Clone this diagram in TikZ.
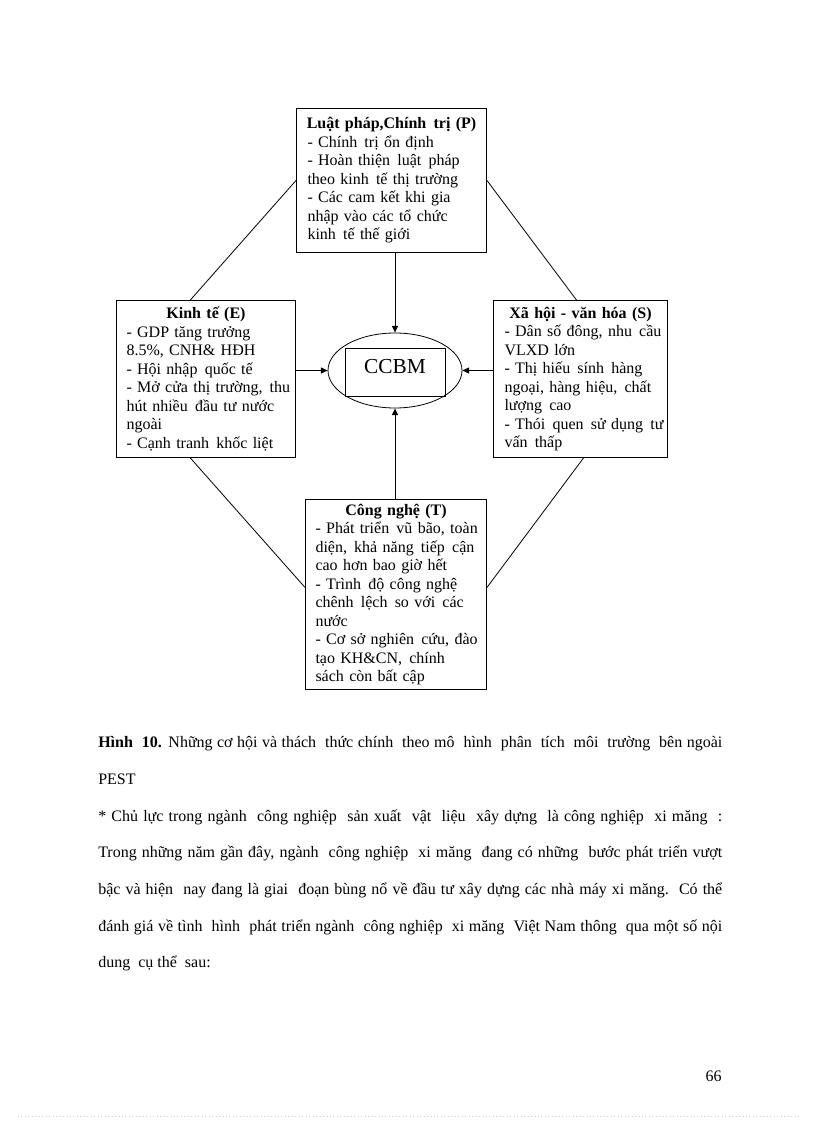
\documentclass[tikz,border=0pt]{standalone}
\usepackage{fontspec}
\setmainfont{Liberation Serif}
\usetikzlibrary{shapes.geometric,arrows.meta,calc}
\setlength\parindent{0pt}
\definecolor{dotline}{RGB}{190,215,190}
\newcommand\bline[1]{\mbox{#1}\\}
\newcommand\btitle[1]{\makebox[\hsize][c]{\textbf{#1}}\\}
\newcommand\dsp{\hspace{0.45em}}
\begin{document}
\begin{tikzpicture}[x=0.75pt,y=-0.75pt,
  boxtext/.style={draw, line width=0.75pt, rectangle, anchor=north west, inner ysep=0pt,
    align=left, font=\fontsize{12pt}{13.875pt}\selectfont},
  conn/.style={line width=0.6pt},
  arr/.style={line width=0.75pt, -{Triangle[length=5pt,width=4.5pt]}},
  bodyline/.style={anchor=base west, inner sep=0pt, font=\fontsize{12pt}{14pt}\selectfont}
]
\useasboundingbox (0,0) rectangle (816,1123);

% ---- boxes ----
\node[boxtext, inner xsep=8.25pt, text width=126pt, minimum height=108pt] (P) at (296,108)
 {\btitle{Luật pháp,Chính\dsp trị (P)}\bline{- Chính\dsp trị ổn định}\bline{- Hoàn thiện\dsp luật\dsp pháp}\bline{theo kinh\dsp tế thị trường}\bline{- Các cam kết khi gia}\bline{nhập vào các tổ chức}\mbox{kinh\dsp tế thế giới}};

\node[boxtext, inner xsep=7.5pt, text width=119.25pt, minimum height=117.75pt] (E) at (116,300)
 {\btitle{Kinh tế (E)}\bline{- GDP tăng trưởng}\bline{8.5\%, CNH\& HĐH}\bline{- Hội nhập\dsp quốc tế}\bline{- Mở cửa thị trường,\dsp thu}\bline{hút nhiều\dsp đầu tư nước}\bline{ngoài}\mbox{- Cạnh tranh\dsp khốc liệt}};

\node[boxtext, inner xsep=8.25pt, text width=114pt, minimum height=117.75pt] (S) at (493,300)
 {\btitle{Xã hội - văn hóa (S)}\bline{- Dân số đông, nhu\dsp cầu}\bline{VLXD lớn}\bline{- Thị hiếu\dsp sính\dsp hàng}\bline{ngoại, hàng hiệu,\dsp chất}\bline{lượng\dsp cao}\bline{- Thói\dsp quen\dsp sử dụng\dsp tư}\mbox{vấn\dsp thấp}};

\node[boxtext, inner xsep=7.5pt, text width=120.75pt, minimum height=142.5pt] (T) at (305,499)
 {\btitle{Công nghệ (T)}\bline{- Phát triển\dsp vũ bão, toàn}\bline{diện,\dsp khả năng\dsp tiếp\dsp cận}\bline{cao hơn bao giờ hết}\bline{- Trình\dsp độ công nghệ}\bline{chênh\dsp lệch\dsp so với\dsp các}\bline{nước}\bline{- Cơ sở nghiên\dsp cứu, đào}\bline{tạo KH\&CN,\dsp chính}\mbox{sách còn bất cập}};

% ---- centre ----
\node[draw, ellipse, line width=0.6pt, inner sep=0pt, minimum width=100.5pt, minimum height=56.25pt] (ell) at (395,370.5) {};
\node[draw, rectangle, line width=0.6pt, inner sep=0pt, minimum width=75pt, minimum height=36pt,
  font=\fontsize{16pt}{19pt}\selectfont, text height=10.6pt, text depth=9pt] (ccbm) at (395,372) {CCBM};

% ---- arrows into the centre ----
\draw[arr] (ell.north |- P.south) -- (ell.north);
\draw[arr] (ell.south |- T.north) -- (ell.south);
\draw[arr] (E.east |- ell.west) -- (ell.west);
\draw[arr] (S.west |- ell.east) -- (ell.east);

% ---- diamond of connectors ----
\draw[conn] ($(E.north west)!0.413!(E.north east)$) -- (P.west);
\draw[conn] (P.east) -- ($(S.north west)!0.477!(S.north east)$);
\draw[conn] ($(E.south west)!0.413!(E.south east)$) -- ($(T.north west)!0.463!(T.south west)$);
\draw[conn] ($(S.south west)!0.517!(S.south east)$) -- ($(T.north east)!0.463!(T.south east)$);

% ---- body text ----
\node[bodyline] (l1) at (98,747) {\makebox[468pt][s]{\textbf{Hình\ \ 10.} Những cơ hội và thách\ \ thức chính\ \ theo mô\ \ hình\ \ phân\ \ tích\ \ môi\ \ trường\ \ bên ngoài}};
\node[bodyline] (l2) at (98,784) {PEST};
\node[bodyline] (l3) at (98,821) {\makebox[468pt][s]{* Chủ lực trong ngành\ \ công nghiệp\ \ sản xuất\ \ vật\ \ liệu\ \ xây dựng\ \ là công nghiệp\ \ xi măng\ \ :}};
\node[bodyline] (l4) at (98,857) {\makebox[468pt][s]{Trong những năm gần đây, ngành\ \ công nghiệp\ \ xi măng\ \ đang có những\ \ bước phát triển vượt}};
\node[bodyline] (l5) at (98,894) {\makebox[468pt][s]{bậc và hiện\ \ nay đang là giai\ \ đoạn bùng nổ về đầu tư xây dựng các nhà máy xi măng.\ \ Có thể}};
\node[bodyline] (l6) at (98,931) {\makebox[468pt][s]{đánh giá về tình\ \ hình\ \ phát triển ngành\ \ công nghiệp\ \ xi măng\ \ Việt Nam thông\ \ qua một số nội}};
\node[bodyline] (l7) at (98,967) {dung\ \ cụ thể\ \ sau:};

% ---- page number and page edge ----
\node[anchor=base east, inner sep=0pt, font=\fontsize{12pt}{14pt}\selectfont] (pg) at (722,1081) {66};
\draw[dotline, dotted, line width=0.6pt] (18,1116) -- (800,1116);
\end{tikzpicture}
\end{document}
